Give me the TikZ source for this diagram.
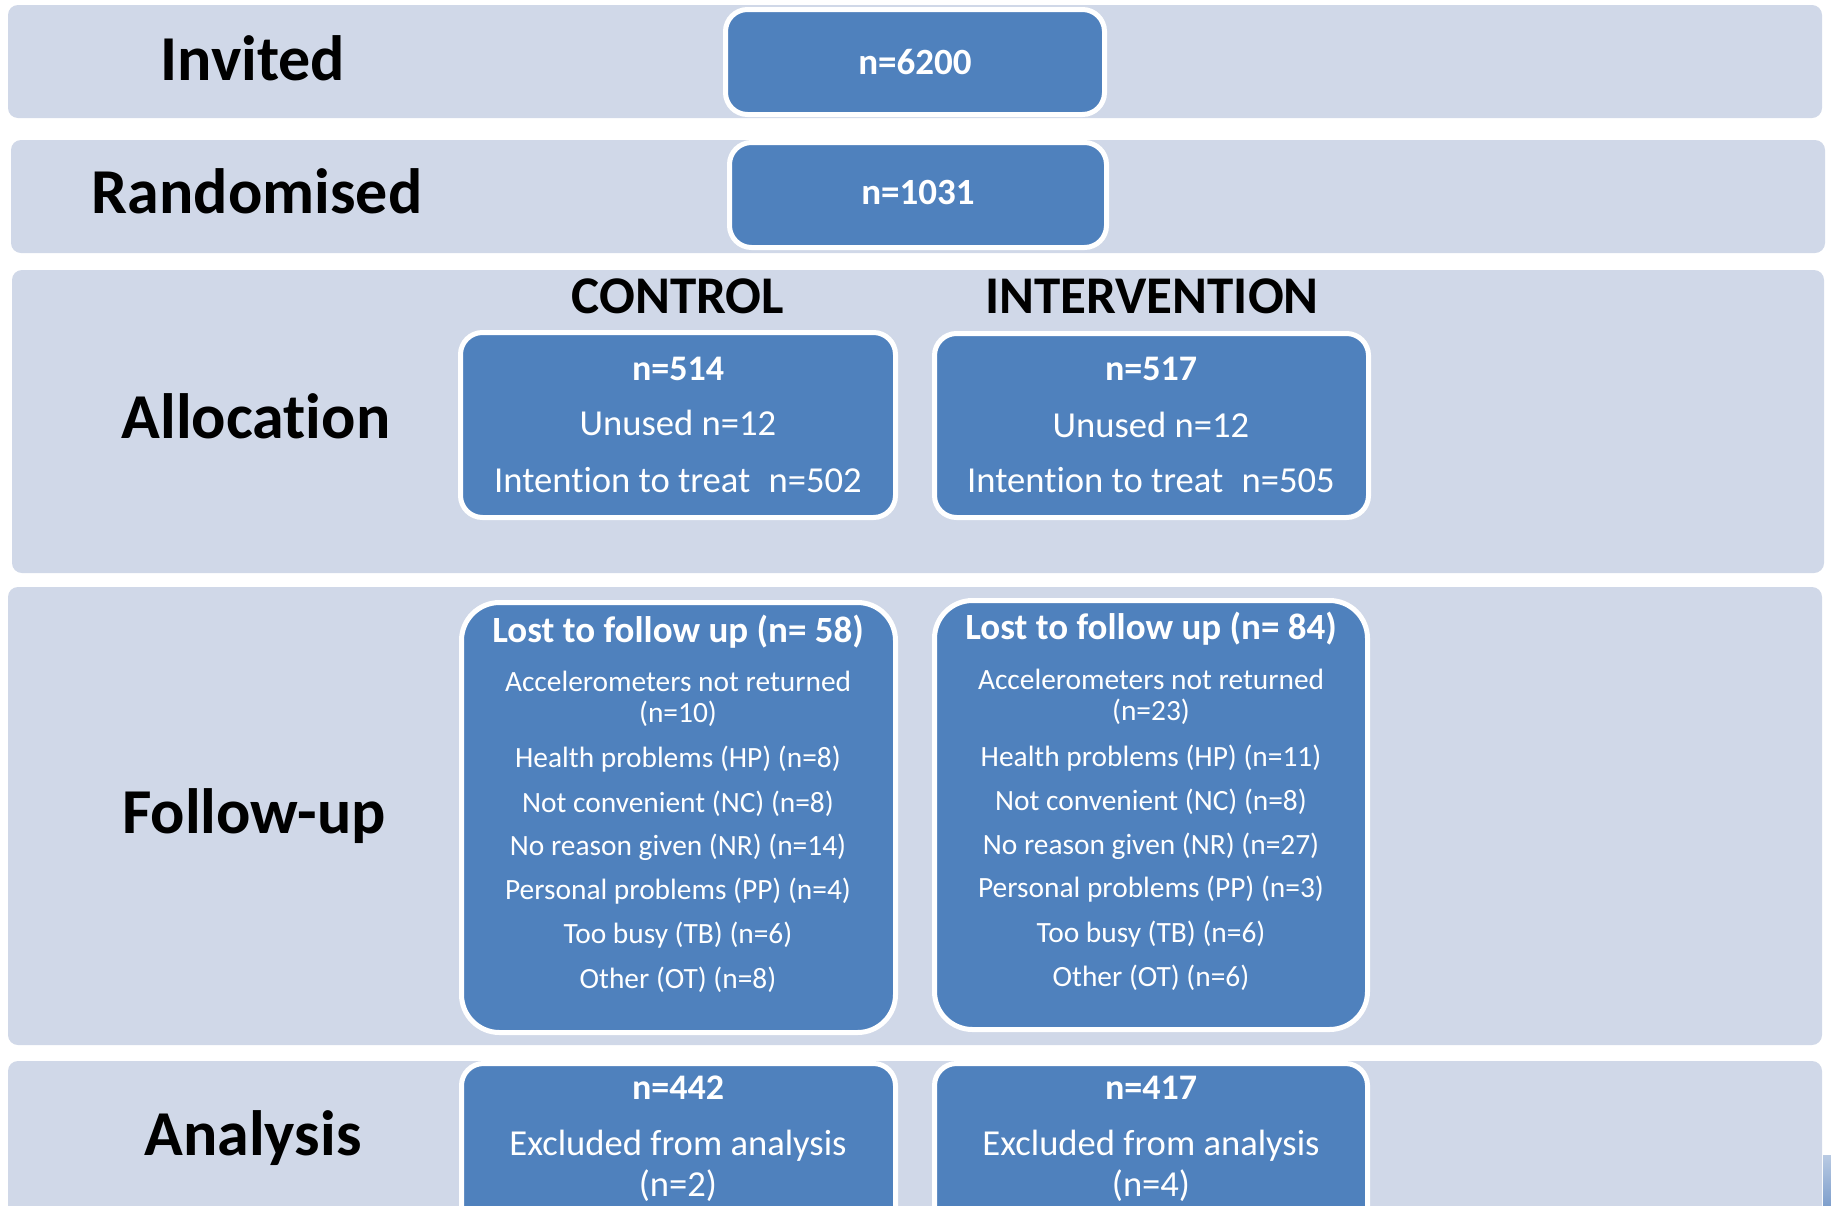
\documentclass[tikz,border=0pt]{standalone}
\usepackage{fontspec}
\setmainfont{Carlito}[RawFeature={-liga;-clig;-dlig;-calt}]
\definecolor{bandc}{HTML}{D0D8E8}
\definecolor{boxc}{HTML}{4F81BD}
\definecolor{fragc}{HTML}{7F9FCC}
\newcommand{\fs}[1]{\fontsize{#1}{#1}\selectfont}
\tikzset{
  band/.style={fill=bandc, rounded corners=10pt},
  box/.style={rectangle, fill=boxc, draw=white, line width=5pt, rounded corners=#1, inner sep=0pt},
  box/.default=22pt,
  rowlabel/.style={anchor=base, inner sep=0pt, text=black, font=\fs{64}\bfseries},
  armlabel/.style={anchor=base, inner sep=0pt, text=black, font=\fs{53}\bfseries},
  head/.style={anchor=base, inner sep=0pt, text=white, font=\fs{#1}\bfseries},
  head/.default=36,
  line/.style={anchor=base, inner sep=0pt, text=white, font=\fs{#1}},
  line/.default=36.6
}
\begin{document}
\begin{tikzpicture}[x=1pt,y=-1pt]
\path[use as bounding box] (0,0) rectangle (1831,1205);
\clip (0,0) rectangle (1831,1205);
\fill[white] (0,0) rectangle (1831,1205);
% bands
\path[band] (8,5) rectangle (1822,118);
\path[band] (11,140) rectangle (1825,253);
\path[band] (12,270) rectangle (1824,573);
\path[band] (8,587) rectangle (1822,1045);
\path[band] (8,1061) rectangle (1822,1260);
\fill[top color=fragc!55!white, bottom color=fragc] (1823,1155) rectangle (1831,1205);
% row labels
\node[rowlabel] (lInv) at (253,80) {Invited};
\node[rowlabel] (lRand) at (257,213) {Randomised};
\node[rowlabel] (lAlloc) at (256,438) {Allocation};
\node[rowlabel] (lFU) at (254,833) {Follow-up};
\node[rowlabel] (lAn) at (253,1155) {Analysis};
% arm labels
\node[armlabel] (lCtl) at (678,313) {CONTROL};
\node[armlabel] (lInt) at (1152,313) {INTERVENTION};
% boxes
\node[box, minimum width=379pt, minimum height=105pt] (inv) at (915,62) {};
\node[box, minimum width=377pt, minimum height=105pt] (rand) at (918,195) {};
\node[box, minimum width=435pt, minimum height=185pt] (ctlAlloc) at (678,425) {};
\node[box, minimum width=434pt, minimum height=184pt] (intAlloc) at (1151.5,425.5) {};
\node[box=38pt, minimum width=434pt, minimum height=430pt] (ctlFU) at (678.5,817.5) {};
\node[box=38pt, minimum width=433pt, minimum height=429pt] (intFU) at (1151,815) {};
\node[box, minimum width=434pt, minimum height=185pt] (ctlAn) at (678.5,1156) {};
\node[box, minimum width=433pt, minimum height=185pt] (intAn) at (1151,1156) {};
% box texts
\node[head=37] (tInv) at (915,74) {n=6200};
\node[head=37] (tRand) at (918,204) {n=1031};
% allocation
\node[head] (tCA1) at (678,380) {n=514};
\node[line] (tCA2) at (678,435) {Unused n=12};
\node[line] (tCA3) at (678,492) {Intention to treat\hspace{0.5em}n=502};
\node[head] (tIA1) at (1151,380) {n=517};
\node[line] (tIA2) at (1151,437) {Unused n=12};
\node[line] (tIA3) at (1151,492) {Intention to treat\hspace{0.5em}n=505};
% follow-up control
\node[head=37] (tCF0) at (678,642) {Lost to follow up (n= 58)};
\node[line=29.4] (tCF1) at (678,691) {Accelerometers not returned};
\node[line=29.4] (tCF2) at (678,722) {(n=10)};
\node[line=29.4] (tCF3) at (678,767) {Health problems (HP) (n=8)};
\node[line=29.4] (tCF4) at (678,812) {Not convenient (NC) (n=8)};
\node[line=29.4] (tCF5) at (678,855) {No reason given (NR) (n=14)};
\node[line=29.4] (tCF6) at (678,899) {Personal problems (PP) (n=4)};
\node[line=29.4] (tCF7) at (678,943) {Too busy (TB) (n=6)};
\node[line=29.4] (tCF8) at (678,988) {Other (OT) (n=8)};
% follow-up intervention
\node[head=37] (tIF0) at (1151,639) {Lost to follow up (n= 84)};
\node[line=29.4] (tIF1) at (1151,689) {Accelerometers not returned};
\node[line=29.4] (tIF2) at (1151,720) {(n=23)};
\node[line=29.4] (tIF3) at (1151,766) {Health problems (HP) (n=11)};
\node[line=29.4] (tIF4) at (1151,810) {Not convenient (NC) (n=8)};
\node[line=29.4] (tIF5) at (1151,854) {No reason given (NR) (n=27)};
\node[line=29.4] (tIF6) at (1151,897) {Personal problems (PP) (n=3)};
\node[line=29.4] (tIF7) at (1151,942) {Too busy (TB) (n=6)};
\node[line=29.4] (tIF8) at (1151,986) {Other (OT) (n=6)};
% analysis
\node[head] (tCN1) at (678,1099) {n=442};
\node[line] (tCN2) at (678,1155) {Excluded from analysis};
\node[line] (tCN3) at (678,1196) {(n=2)};
\node[head] (tIN1) at (1151,1099) {n=417};
\node[line] (tIN2) at (1151,1155) {Excluded from analysis};
\node[line] (tIN3) at (1151,1196) {(n=4)};
\end{tikzpicture}
\end{document}
